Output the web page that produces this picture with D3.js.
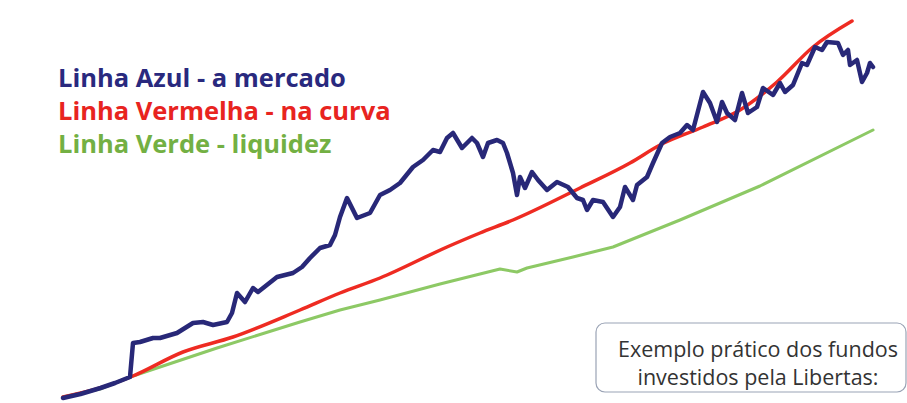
<!DOCTYPE html>
<meta charset="utf-8">
<style>
body { margin: 0; background: #fff; }
svg { display: block; font-family: "Open Sans", sans-serif; }
.linha { fill: none; stroke-linejoin: round; stroke-linecap: round; }
.legenda { font-weight: bold; font-size: 25.5px; }
.caixa text { font-size: 21.5px; fill: #333; text-anchor: middle; }
</style>
<svg width="907" height="403"></svg>
<script src="https://d3js.org/d3.v7.min.js"></script>
<script>

// [mes, indice]
var azul = [[0,100],[3.5,102],[7.5,105],[10.4,107.5],[13.4,110.5],[14,127.5],[15.4,128],[18,130],[19.4,130],
  [22.8,132.5],[26,137.5],[28,138],[30,136.5],[32.8,138],[33.8,142.5],[34.8,152.5],[36.4,148],[38,155],[39,153],
  [42.8,160.5],[46,162.5],[47.8,165.5],[49.4,170],[51.4,175],[53.4,176.5],[54.4,181.5],[55.4,190.5],[56.8,200],
  [58.8,190],[61.4,192.5],[63.4,201.5],[65.4,204],[67.4,207.5],[70,215.5],[72,219],[74,224],[75.4,223],[76.8,230],
  [78,232.5],[79.8,225],[81.8,230],[82.8,227.5],[84,220.5],[85,227.5],[86.8,229],[88,227.5],[88.8,222.5],[90,212.5],
  [90.8,201.5],[91.4,210.5],[92.4,205],[93.8,213],[95,209],[96.8,204],[98.8,208],[101,205.5],[102.8,200],[104,199],
  [104.8,194],[106,199],[108,198],[110,190.5],[111.4,195.5],[112.4,205.5],[114,199],[114.8,206.5],[116.8,210.5],
  [118,217.5],[119.8,227.5],[121.4,230.5],[123.4,232.5],[124.8,236.5],[126,234],[128,253],[129.4,247.5],[130.8,238],
  [131.8,248],[132.8,242.5],[134.4,239],[135.8,252.5],[137,242.5],[138.8,245.5],[140,255],[142,251.5],[143.4,257.5],
  [144.4,253],[146,256.5],[147.8,267.5],[148.8,266.5],[150.4,275.5],[151.8,274],[152.8,278],[155,277.5],[156,271.5],
  [157,274],[157.4,266.5],[158.8,269],[159.8,258],[160.8,262.5],[161.4,267.5],[162,265.5]];

var vermelha = [[0,100.5],[7.4,105],[14,111],[24,123],[34,130.5],[47.4,144],[55.4,152.5],[63.4,160],[76.8,175.5],
  [83.4,182.5],[90,189],[103.4,205],[113.4,217.5],[119.4,226.5],[128,235.5],[135.4,244],[142.8,258],[150,275.5],[157.8,288.5]];

var verde = [[0,100.5],[7.4,104.5],[13.4,110.5],[30.8,125],[47.4,138],[55.4,144],[63.4,149],[75.4,157],[87.4,164.5],
  [90.8,163],[92.8,165],[102,170.5],[110,175.5],[123.4,189],[139.4,206],[162,234]];

var legendas = ["Linha Azul - a mercado", "Linha Vermelha - na curva", "Linha Verde - liquidez"];
var cores = ["#29297e", "#e8241f", "#73b043"];
var nota = ["Exemplo prático dos fundos", "investidos pela Libertas:"];

var svg = d3.select("svg");

var x = d3.scaleLinear().domain([0, 162]).range([63, 873]);
var y = d3.scaleLinear().domain([100, 290]).range([398, 18]);

var linha = d3.line()
    .x(function(d) { return x(d[0]); })
    .y(function(d) { return y(d[1]); });

svg.append("path").datum(verde)
    .attr("class", "linha")
    .attr("stroke", "#8dc965")
    .attr("stroke-width", 3)
    .attr("d", linha.curve(d3.curveLinear));

svg.append("path").datum(vermelha)
    .attr("class", "linha")
    .attr("stroke", "#ee2b22")
    .attr("stroke-width", 3.5)
    .attr("d", linha.curve(d3.curveMonotoneX));

svg.append("path").datum(azul)
    .attr("class", "linha")
    .attr("stroke", "#282878")
    .attr("stroke-width", 4.5)
    .attr("d", linha.curve(d3.curveLinear));

svg.append("g").selectAll("text")
    .data(legendas)
    .enter().append("text")
      .attr("class", "legenda")
      .attr("x", 58)
      .attr("y", function(d, i) { return 86.5 + i * 33; })
      .attr("fill", function(d, i) { return cores[i]; })
      .text(function(d) { return d; });

var caixa = svg.append("g").attr("class", "caixa");
caixa.append("rect")
    .attr("x", 596).attr("y", 323)
    .attr("width", 310).attr("height", 69)
    .attr("rx", 9)
    .attr("fill", "#fff")
    .attr("stroke", "#9aa3b5")
    .attr("stroke-width", 1.2);

caixa.selectAll("text")
    .data(nota)
    .enter().append("text")
      .attr("x", 758)
      .attr("y", function(d, i) { return 357 + i * 28; })
      .text(function(d) { return d; });

</script>
